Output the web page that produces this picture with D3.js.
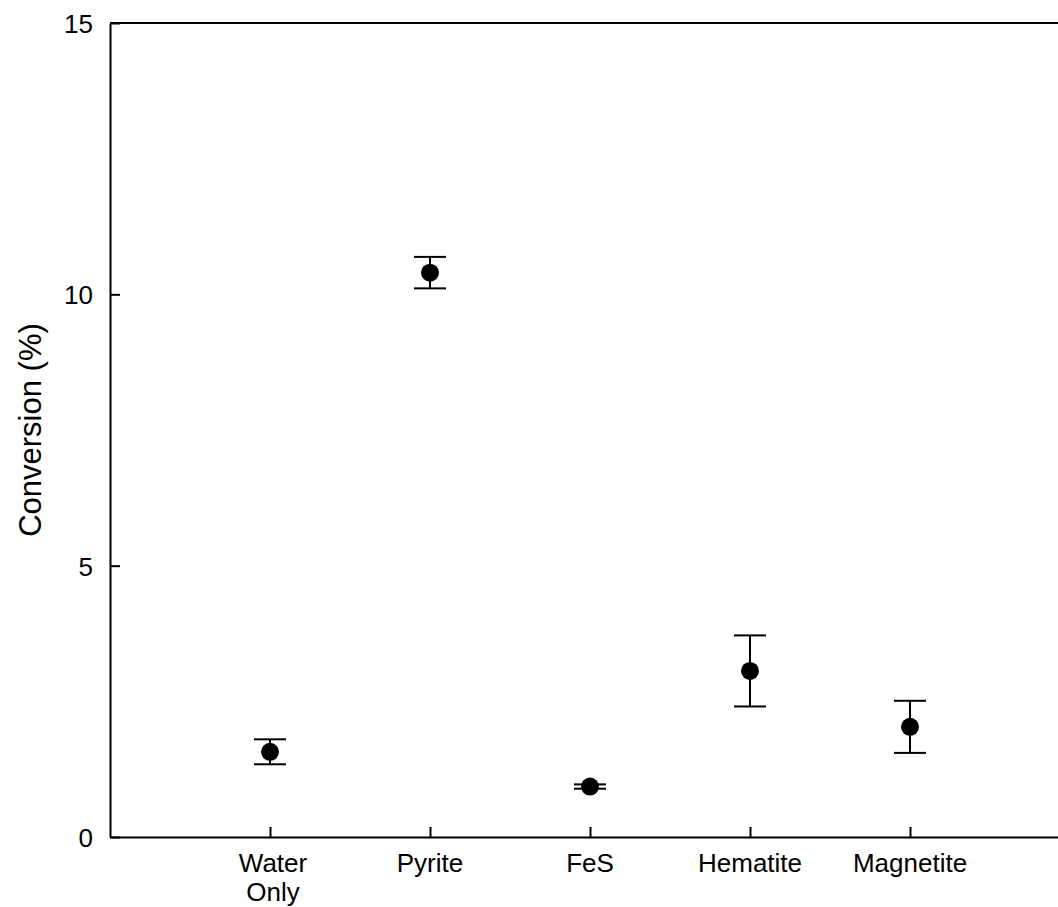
<!DOCTYPE html>
<html>
<head>
<meta charset="utf-8">
<script src="https://cdn.jsdelivr.net/npm/d3@7"></script>
<style>
  body { margin: 0; background: #fff; }
  text { font-family: "Liberation Sans", Arial, sans-serif; fill: #000; }
</style>
</head>
<body>
<div id="chart"></div>
<script>
// data
const categories = ["Water Only", "Pyrite", "FeS", "Hematite", "Magnetite"];
const conversion = [1.57, 10.4, 0.93, 3.06, 2.03];
const errors = [0.23, 0.29, 0.04, 0.655, 0.48];
const yTicks = [0, 5, 10, 15];

const W = 1058, H = 907;
const plot = { left: 110, top: 23, bottom: 837, right: 1070 };

const svg = d3.select("#chart")
  .append("svg")
    .attr("width", W)
    .attr("height", H)
    .attr("viewBox", `0 0 ${W} ${H}`);

const x = d3.scaleLinear()
  .domain([0, 6])
  .range([plot.left, plot.right]);

const y = d3.scaleLinear()
  .domain([0, 15])
  .range([plot.bottom, plot.top]);

// top frame line
svg.append("line")
  .attr("x1", plot.left).attr("x2", plot.right)
  .attr("y1", plot.top).attr("y2", plot.top)
  .attr("stroke", "#000").attr("stroke-width", 2);

// y axis
const yAxis = svg.append("g")
  .attr("transform", `translate(${plot.left},0)`)
  .call(d3.axisLeft(y).tickValues(yTicks).tickSize(-10).tickPadding(17).tickSizeOuter(0));
yAxis.select(".domain").attr("stroke-width", 2);
yAxis.selectAll(".tick line").attr("stroke-width", 2);
yAxis.selectAll(".tick text")
  .style("font-size", "26px")
  .attr("dy", "0.36em");

// x axis
const xAxis = svg.append("g")
  .attr("transform", `translate(0,${plot.bottom})`)
  .call(d3.axisBottom(x).tickValues(d3.range(1, categories.length + 1)).tickSize(-10).tickSizeOuter(0).tickFormat(""));
xAxis.select(".domain").attr("stroke-width", 2);
xAxis.selectAll(".tick line").attr("stroke-width", 2);

// category labels (multi-line)
svg.append("g")
  .selectAll("text")
  .data(categories)
  .join("text")
    .attr("text-anchor", "middle")
    .style("font-size", "26px")
    .attr("transform", (d, i) => `translate(${x(i + 1) + (d === "Water Only" ? 3 : 0)},${plot.bottom + 35})`)
    .each(function(d) {
      const lines = d === "Water Only" ? ["Water", "Only"] : [d];
      d3.select(this).selectAll("tspan")
        .data(lines)
        .join("tspan")
          .attr("x", 0)
          .attr("dy", (l, j) => j === 0 ? 0 : 29)
          .text(l => l);
    });

// y axis title
svg.append("text")
  .attr("transform", `translate(41,${(plot.top + plot.bottom) / 2}) rotate(-90)`)
  .attr("text-anchor", "middle")
  .style("font-size", "31px")
  .text("Conversion (%)");

// error bars
const capHalf = 16;
const pts = categories.map((c, i) => ({ c, i, v: conversion[i], e: errors[i] }));

const eb = svg.append("g")
  .attr("stroke", "#000")
  .attr("stroke-width", 2)
  .selectAll("g")
  .data(pts)
  .join("g");

eb.append("line")
  .attr("x1", d => x(d.i + 1)).attr("x2", d => x(d.i + 1))
  .attr("y1", d => y(d.v - d.e)).attr("y2", d => y(d.v + d.e));
eb.append("line")
  .attr("x1", d => x(d.i + 1) - capHalf).attr("x2", d => x(d.i + 1) + capHalf)
  .attr("y1", d => y(d.v + d.e)).attr("y2", d => y(d.v + d.e));
eb.append("line")
  .attr("x1", d => x(d.i + 1) - capHalf).attr("x2", d => x(d.i + 1) + capHalf)
  .attr("y1", d => y(d.v - d.e)).attr("y2", d => y(d.v - d.e));

// points
svg.append("g")
  .selectAll("circle")
  .data(pts)
  .join("circle")
    .attr("cx", d => x(d.i + 1))
    .attr("cy", d => y(d.v))
    .attr("r", 9)
    .attr("fill", "#000");
</script>
</body>
</html>
